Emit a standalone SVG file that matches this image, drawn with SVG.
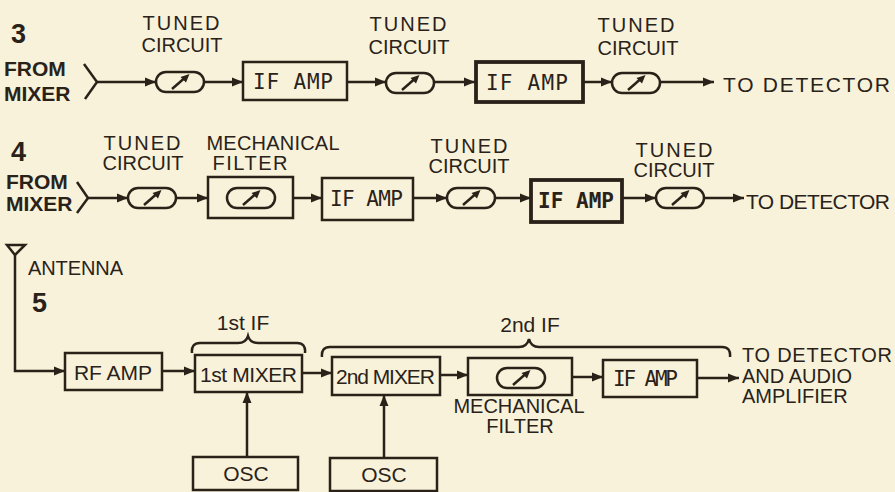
<svg xmlns="http://www.w3.org/2000/svg" xmlns:xlink="http://www.w3.org/1999/xlink" width="895" height="492" viewBox="0 0 895 492">
<style>
.bg{fill:#f7f2d9}
.ln{stroke:#2a2219;stroke-width:2.5;fill:none}
.bx{stroke:#2a2219;stroke-width:2.5;fill:#f7f2d9}
.bxb{stroke:#2a2219;stroke-width:3.8;fill:#f7f2d9}
.lb{font-family:"Liberation Sans",Arial,sans-serif;font-size:20px;fill:#2a2219}
.lbb{font-family:"Liberation Sans",Arial,sans-serif;font-size:21px;font-weight:bold;fill:#2a2219}
.num{font-family:"Liberation Sans",Arial,sans-serif;font-size:27px;font-weight:bold;fill:#2a2219}
.bt{font-family:"DejaVu Sans Mono","Liberation Mono",monospace;font-size:21px;fill:#2a2219}
.bs{font-family:"Liberation Sans",Arial,sans-serif;font-size:21px;fill:#2a2219}
.tn{letter-spacing:2px}
</style>
<defs>
<marker id="ah" markerUnits="userSpaceOnUse" markerWidth="12" markerHeight="10" refX="11" refY="5" orient="auto">
<path d="M0,0.5 L11,5 L0,9.5 z" fill="#2a2219"/>
</marker>
<g id="dial">
<rect x="-24" y="-10" width="48" height="20" rx="10" class="bx"/>
<line x1="-8" y1="7" x2="4" y2="-3.5" stroke="#2a2219" stroke-width="2.5"/>
<path d="M9.5,-8 L0.5,-5 L6,0.5 z" fill="#2a2219"/>
</g>
</defs>
<rect class="bg" x="0" y="0" width="895" height="492"/>

<!-- connectors -->
<g id="connectors">
<path class="ln" d="M84,64 L97,82 L85,99"/>
<line class="ln" x1="97" y1="82" x2="156" y2="82" marker-end="url(#ah)"/>
<line class="ln" x1="204" y1="82" x2="243" y2="82" marker-end="url(#ah)"/>
<line class="ln" x1="347" y1="82" x2="386" y2="82" marker-end="url(#ah)"/>
<line class="ln" x1="434" y1="82" x2="475" y2="82" marker-end="url(#ah)"/>
<line class="ln" x1="583" y1="82" x2="612" y2="82" marker-end="url(#ah)"/>
<line class="ln" x1="660" y1="82" x2="714" y2="82" marker-end="url(#ah)"/>

<path class="ln" d="M77,182 L88,198 L77,213"/>
<line class="ln" x1="88" y1="198" x2="128" y2="198" marker-end="url(#ah)"/>
<line class="ln" x1="176" y1="198" x2="208" y2="198" marker-end="url(#ah)"/>
<line class="ln" x1="293" y1="198" x2="322" y2="198" marker-end="url(#ah)"/>
<line class="ln" x1="413" y1="198" x2="447" y2="198" marker-end="url(#ah)"/>
<line class="ln" x1="495" y1="198" x2="531" y2="198" marker-end="url(#ah)"/>
<line class="ln" x1="622" y1="198" x2="656" y2="198" marker-end="url(#ah)"/>
<line class="ln" x1="704" y1="198" x2="744" y2="198" marker-end="url(#ah)"/>

<path class="ln" d="M15,253 L15,371 L65,371" marker-end="url(#ah)"/>
<line class="ln" x1="162" y1="371" x2="195" y2="371" marker-end="url(#ah)"/>
<line class="ln" x1="302" y1="373" x2="332" y2="373" marker-end="url(#ah)"/>
<line class="ln" x1="440" y1="375" x2="468" y2="375" marker-end="url(#ah)"/>
<line class="ln" x1="572" y1="377" x2="603" y2="377" marker-end="url(#ah)"/>
<line class="ln" x1="697" y1="378" x2="739" y2="378" marker-end="url(#ah)"/>
<line class="ln" x1="247" y1="457" x2="247" y2="392" marker-end="url(#ah)"/>
<line class="ln" x1="384" y1="458" x2="384" y2="395" marker-end="url(#ah)"/>
</g>

<!-- diagram 3 -->
<g id="label3">
<text class="num" x="11" y="43">3</text>
<text class="lbb" x="4" y="76">FROM</text>
<text class="lbb" x="4" y="101">MIXER</text>
</g>
<g id="tc3a"><use xlink:href="#dial" x="180" y="82"/>
<text class="lb tn" x="182" y="30" text-anchor="middle">TUNED</text>
<text class="lb" x="182" y="52" text-anchor="middle">CIRCUIT</text></g>
<g id="ifamp3a"><rect class="bx" x="243" y="62" width="104" height="38"/>
<text class="bt" x="253" y="89" textLength="80" lengthAdjust="spacing">IF AMP</text></g>
<g id="tc3b"><use xlink:href="#dial" x="410" y="83"/>
<text class="lb tn" x="409" y="31" text-anchor="middle">TUNED</text>
<text class="lb" x="409" y="54" text-anchor="middle">CIRCUIT</text></g>
<g id="ifamp3b"><rect class="bxb" x="476" y="62" width="107" height="40"/>
<text class="bt" x="486" y="90" textLength="82" lengthAdjust="spacing">IF AMP</text></g>
<g id="tc3c"><use xlink:href="#dial" x="636" y="83"/>
<text class="lb tn" x="637" y="32" text-anchor="middle">TUNED</text>
<text class="lb" x="638" y="55" text-anchor="middle">CIRCUIT</text></g>
<g id="out3"><text class="bs" x="723" y="92" font-size="23" textLength="167" lengthAdjust="spacing">TO DETECTOR</text></g>

<!-- diagram 4 -->
<g id="label4">
<text class="num" x="11" y="161">4</text>
<text class="lbb" x="6" y="189" font-size="19">FROM</text>
<text class="lbb" x="6" y="211" font-size="19">MIXER</text>
</g>
<g id="tc4a"><use xlink:href="#dial" x="152" y="198"/>
<text class="lb tn" x="143" y="150" text-anchor="middle">TUNED</text>
<text class="lb" x="143" y="170" text-anchor="middle">CIRCUIT</text></g>
<g id="mf4"><rect class="bx" x="208" y="177" width="85" height="41"/>
<use xlink:href="#dial" x="251" y="198"/>
<text class="lb" x="273" y="150" text-anchor="middle" textLength="133" lengthAdjust="spacing">MECHANICAL</text>
<text class="lb" x="250" y="170" text-anchor="middle" textLength="75" lengthAdjust="spacing">FILTER</text></g>
<g id="ifamp4a"><rect class="bx" x="322" y="178" width="91" height="42"/>
<text class="bt" x="330" y="206" textLength="73" lengthAdjust="spacing">IF AMP</text></g>
<g id="tc4b"><use xlink:href="#dial" x="471" y="198"/>
<text class="lb tn" x="470" y="153" text-anchor="middle">TUNED</text>
<text class="lb" x="469" y="173" text-anchor="middle">CIRCUIT</text></g>
<g id="ifamp4b"><rect class="bxb" x="531" y="180" width="91" height="42"/>
<text class="bt" x="538" y="208" textLength="76" lengthAdjust="spacing" font-weight="bold">IF AMP</text></g>
<g id="tc4c"><use xlink:href="#dial" x="680" y="198"/>
<text class="lb tn" x="675" y="157" text-anchor="middle">TUNED</text>
<text class="lb" x="674" y="177" text-anchor="middle">CIRCUIT</text></g>
<g id="out4"><text class="bs" x="746" y="209" textLength="144" lengthAdjust="spacing">TO DETECTOR</text></g>

<!-- diagram 5 -->
<g id="antenna">
<path class="ln" d="M7,245 L25,245 L15,255 z"/>
<text class="lb" x="28" y="275" textLength="95" lengthAdjust="spacing">ANTENNA</text>
<text class="num" x="32" y="312">5</text>
</g>
<g id="rfamp"><rect class="bx" x="65" y="353" width="97" height="37"/>
<text class="bs" x="113" y="380" font-size="20" text-anchor="middle">RF AMP</text></g>
<g id="mixer1"><rect class="bx" x="195" y="355" width="107" height="37"/>
<text class="bs" x="200" y="382" textLength="97" lengthAdjust="spacing">1st MIXER</text></g>
<g id="mixer2"><rect class="bx" x="332" y="357" width="108" height="38"/>
<text class="bs" x="336" y="384" textLength="99" lengthAdjust="spacing">2nd MIXER</text></g>
<g id="mf5"><rect class="bx" x="468" y="358" width="104" height="37"/>
<use xlink:href="#dial" x="521" y="378"/>
<text class="lb" x="519" y="413" text-anchor="middle" font-size="15">MECHANICAL</text>
<text class="lb" x="520" y="433" text-anchor="middle" font-size="15">FILTER</text></g>
<g id="ifamp5"><rect class="bx" x="603" y="360" width="94" height="37"/>
<text class="bt" x="613" y="386" textLength="65" lengthAdjust="spacing" font-size="18">IF AMP</text></g>
<g id="out5">
<text class="lb" x="742" y="362" font-size="18" textLength="150" lengthAdjust="spacing">TO DETECTOR</text>
<text class="lb" x="742" y="383" font-size="17">AND AUDIO</text>
<text class="lb" x="742" y="403" font-size="17">AMPLIFIER</text>
</g>
<g id="osc1"><rect class="bx" x="193" y="457" width="105" height="33"/>
<text class="bs" x="246" y="481" text-anchor="middle">OSC</text></g>
<g id="osc2"><rect class="bx" x="330" y="458" width="107" height="33"/>
<text class="bs" x="384" y="482" text-anchor="middle">OSC</text></g>
<g id="brace1">
<path class="ln" d="M192,353 Q191,343 200,343 L238,343 Q246,343 248,336 Q250,343 258,343 L297,343 Q306,343 305,353"/>
<text class="bs" x="243" y="330" text-anchor="middle">1st IF</text>
</g>
<g id="brace2">
<path class="ln" d="M322,357 Q321,347 330,347 L519,347 Q527,347 529,339 Q531,347 539,347 L722,347 Q731,347 730,357"/>
<text class="bs" x="530" y="332" text-anchor="middle">2nd IF</text>
</g>
</svg>
